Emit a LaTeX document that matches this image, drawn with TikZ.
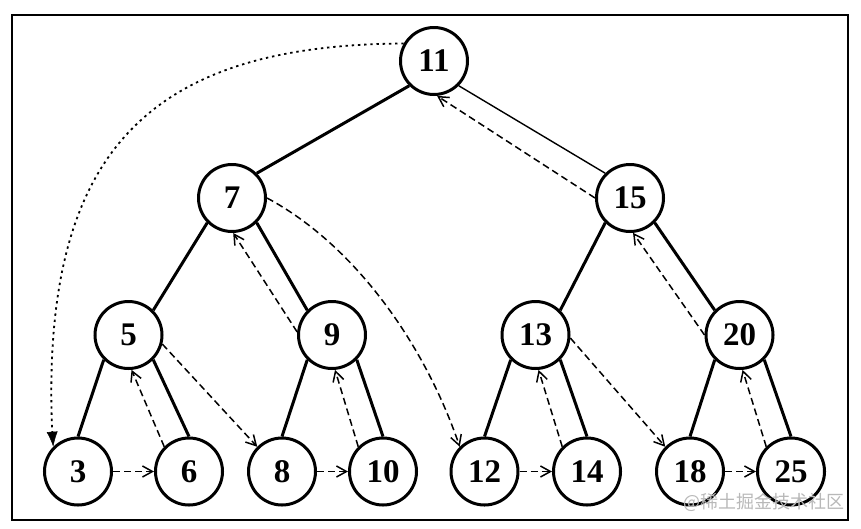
\documentclass[tikz,border=0pt]{standalone}
\usepackage{fontspec}
\setmainfont{Liberation Serif}
\newfontfamily\cjk{Noto Sans CJK SC}
\usetikzlibrary{arrows.meta,calc}
\begin{document}
\begin{tikzpicture}[x=1pt,y=-1pt,
  tn/.style={circle,draw,line width=3pt,minimum size=67pt,inner sep=0pt,
             font=\fontsize{33}{33}\selectfont\bfseries},
  tree/.style={line width=3pt},
  thinedge/.style={line width=1.4pt},
  thr/.style={line width=1.5pt,dash pattern=on 7pt off 4pt,
              -{Straight Barb[length=10pt,width=11pt,line width=1.5pt]}},
  dotline/.style={line width=1.8pt,dash pattern=on 2.4pt off 3.8pt},
  dothead/.style={line width=0.5pt,-{Latex[length=15pt,width=11pt]}},
  frame/.style={line width=2pt},
  wmark/.style={text=black!28,font=\cjk\fontsize{18}{18}\selectfont,anchor=east,inner sep=0pt}
]
\useasboundingbox (0,0) rectangle (861,528);
\draw[frame] (12,15) rectangle (848,520);

\node[tn] (n11) at (434,61) {11};
\node[tn] (n7)  at (232,198) {7};
\node[tn] (n15) at (630,198) {15};
\node[tn] (n5)  at (128.5,335) {5};
\node[tn] (n9)  at (332,335) {9};
\node[tn] (n13) at (535.5,335) {13};
\node[tn] (n20) at (739.5,335) {20};
\node[tn] (n3)  at (78,471.5) {3};
\node[tn] (n6)  at (189,471.5) {6};
\node[tn] (n8)  at (282,471.5) {8};
\node[tn] (n10) at (383,471.5) {10};
\node[tn] (n12) at (484.5,471.5) {12};
\node[tn] (n14) at (587,471.5) {14};
\node[tn] (n18) at (690,471.5) {18};
\node[tn] (n25) at (791,471.5) {25};

% tree edges
\draw[tree] (n11.south west) -- (n7.north east);
\draw[thinedge] (n11.south east) -- (n15.north west);
\draw[tree] (n7.south west) -- (n5.north east);
\draw[tree] (n7.south east) -- (n9.north west);
\draw[tree] (n15.south west) -- (n13.north east);
\draw[tree] (n15.south east) -- (n20.north west);
\draw[tree] (n5.south west) -- (n3.north);
\draw[tree] (n5.south east) -- (n6.north);
\draw[tree] (n9.south west) -- (n8.north);
\draw[tree] (n9.south east) -- (n10.north);
\draw[tree] (n13.south west) -- (n12.north);
\draw[tree] (n13.south east) -- (n14.north);
\draw[tree] (n20.south west) -- (n18.north);
\draw[tree] (n20.south east) -- (n25.north);

% threads
\draw[thr] (n3.east) -- (n6.west);
\draw[thr] (n8.east) -- (n10.west);
\draw[thr] (n12.east) -- (n14.west);
\draw[thr] (n18.east) -- (n25.west);
\draw[thr] (n6.north west) -- (n5.-85);
\draw[thr] (n10.north west) -- (n9.-85);
\draw[thr] (n14.north west) -- (n13.-85);
\draw[thr] (n25.north west) -- (n20.-85);
\draw[thr] (n5.-15) -- (n8.north west);
\draw[thr] (n13.-5) -- (n18.north west);
\draw[thr] (n9.175) -- (n7.-88);
\draw[thr] (n20.west) -- (n15.-85);
\draw[thr] (n15.west) -- (n11.-85);
\draw[thr] (n7.east) .. controls (355,245) and (425,345) .. (n12.north west);
\coordinate (dh) at ($(n3.north west)+(-1,-14)$);
\draw[dotline] (n11.150) .. controls (150,45) and (40,150) .. (dh);
\draw[dothead] (dh) -- (n3.north west);

\node[wmark] (wm) at (845,502) {@稀土掘金技术社区};
\end{tikzpicture}
\end{document}
